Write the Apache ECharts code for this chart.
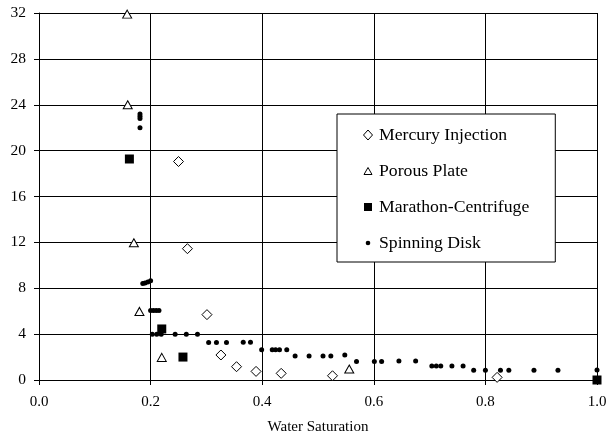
<!DOCTYPE html>
<html>
<head>
<meta charset="utf-8">
<script src="https://cdn.jsdelivr.net/npm/echarts@6/dist/echarts.min.js"></script>
<style>html,body{margin:0;padding:0;background:#fff}#c{width:610px;height:442px}</style>
</head>
<body>
<div id="c"></div>
<script>
var seriesNames = ['Mercury Injection', 'Porous Plate', 'Marathon-Centrifuge', 'Spinning Disk'];
var xTicks = ['0.0', '0.2', '0.4', '0.6', '0.8', '1.0'];
var yTicks = ['0', '4', '8', '12', '16', '20', '24', '28', '32'];

var mercuryX = [0.25, 0.266, 0.301, 0.326, 0.354, 0.389, 0.434, 0.526, 0.821];
var mercuryY = [19.05, 11.45, 5.7, 2.18, 1.16, 0.75, 0.58, 0.37, 0.23];

var porousX = [0.158, 0.159, 0.170, 0.180, 0.220, 0.556];
var porousY = [31.9, 24.0, 11.97, 5.98, 1.97, 0.96];

var marathonX = [0.162, 0.220, 0.258, 1.0];
var marathonY = [19.27, 4.45, 2.0, 0];

var diskX = [0.181, 0.181, 0.181, 0.181, 0.186, 0.19, 0.195, 0.2, 0.2, 0.205, 0.21, 0.215,
  0.203, 0.211, 0.219, 0.244, 0.264, 0.284, 0.304, 0.318, 0.336, 0.366, 0.379,
  0.399, 0.418, 0.424, 0.431, 0.444, 0.459, 0.484, 0.509, 0.523, 0.548,
  0.569, 0.601, 0.614, 0.645, 0.675, 0.704, 0.712, 0.72, 0.74, 0.76,
  0.779, 0.80, 0.827, 0.842, 0.887, 0.93, 1.0];
var diskY = [23.2, 23.0, 22.8, 22.0, 8.42, 8.46, 8.55, 8.65, 6.05, 6.05, 6.05, 6.05,
  4.0, 4.0, 4.0, 4.0, 4.0, 4.0, 3.28, 3.28, 3.28, 3.3, 3.3,
  2.64, 2.64, 2.64, 2.64, 2.64, 2.09, 2.09, 2.1, 2.1, 2.18,
  1.62, 1.62, 1.62, 1.65, 1.65, 1.22, 1.22, 1.22, 1.22, 1.22,
  0.84, 0.84, 0.84, 0.84, 0.84, 0.84, 0.88];

function zip(xs, ys) { return xs.map(function (x, i) { return [x, ys[i]]; }); }

function svgIcon(inner) {
  var svg = '<svg xmlns="http://www.w3.org/2000/svg" width="12" height="12" viewBox="0 0 12 12">' + inner + '</svg>';
  return 'image://data:image/svg+xml;charset=utf-8,' + encodeURIComponent(svg);
}
var icons = [
  svgIcon('<path d="M6 1 L10.5 6 L6 11 L1.5 6 Z" fill="#fff" stroke="#000" stroke-width="1"/>'),
  svgIcon('<path d="M6 2.5 L10 9.5 L2 9.5 Z" fill="#fff" stroke="#000" stroke-width="1"/>'),
  svgIcon('<rect x="2" y="2" width="8" height="8" fill="#000"/>'),
  svgIcon('<circle cx="6" cy="6" r="2.3" fill="#000"/>')
];

var font = 'Liberation Serif, Times New Roman, serif';
var chart = echarts.init(document.getElementById('c'), null, { renderer: 'canvas' });
chart.setOption({
  animation: false,
  backgroundColor: '#fff',
  grid: { left: 39, right: 13, top: 13, bottom: 62, containLabel: false },
  xAxis: {
    type: 'value', min: 0, max: 1, interval: 0.2,
    name: 'Water Saturation', nameLocation: 'middle', nameGap: 40,
    nameTextStyle: { fontFamily: font, fontSize: 15, color: '#000' },
    axisLine: { show: true, onZero: false, lineStyle: { color: '#000', width: 1 } },
    axisTick: { show: true, length: 5, inside: false, lineStyle: { color: '#000' } },
    axisLabel: { fontFamily: font, fontSize: 15, color: '#000', margin: 15,
      formatter: function (v) { var i = Math.round(v / 0.2); return xTicks[i] !== undefined ? xTicks[i] : ''; } },
    splitLine: { show: true, lineStyle: { color: '#000', width: 1 } }
  },
  yAxis: {
    type: 'value', min: 0, max: 32, interval: 4,
    axisLine: { show: true, onZero: false, lineStyle: { color: '#000', width: 1 } },
    axisTick: { show: true, length: 5, inside: false, lineStyle: { color: '#000' } },
    axisLabel: { fontFamily: font, fontSize: 15.5, color: '#000', margin: 13,
      formatter: function (v) { var i = Math.round(v / 4); return yTicks[i] !== undefined ? yTicks[i] : ''; } },
    splitLine: { show: true, lineStyle: { color: '#000', width: 1 } }
  },
  legend: {
    orient: 'vertical', left: 337, top: 114,
    padding: [12, 26, 10, 25], itemGap: 18,
    itemWidth: 12, itemHeight: 12,
    backgroundColor: '#fff', borderColor: '#000', borderWidth: 1, borderRadius: 0,
    textStyle: { fontFamily: font, fontSize: 17.7, color: '#000' },
    data: seriesNames.map(function (n, i) { return { name: n, icon: icons[i] }; })
  },
  series: [
    { name: seriesNames[0], type: 'scatter', data: zip(mercuryX, mercuryY), symbol: 'diamond', symbolSize: [10, 10],
      itemStyle: { color: '#fff', borderColor: '#000', borderWidth: 1, opacity: 1 }, z: 3 },
    { name: seriesNames[1], type: 'scatter', data: zip(porousX, porousY), symbol: 'triangle', symbolSize: [9, 8],
      itemStyle: { color: '#fff', borderColor: '#000', borderWidth: 1, opacity: 1 }, z: 3 },
    { name: seriesNames[2], type: 'scatter', data: zip(marathonX, marathonY), symbol: 'rect', symbolSize: [9, 9],
      itemStyle: { color: '#000', opacity: 1 }, z: 3 },
    { name: seriesNames[3], type: 'scatter', data: zip(diskX, diskY), symbol: 'circle', symbolSize: 5,
      itemStyle: { color: '#000', opacity: 1 }, z: 4 }
  ]
});
</script>
</body>
</html>
